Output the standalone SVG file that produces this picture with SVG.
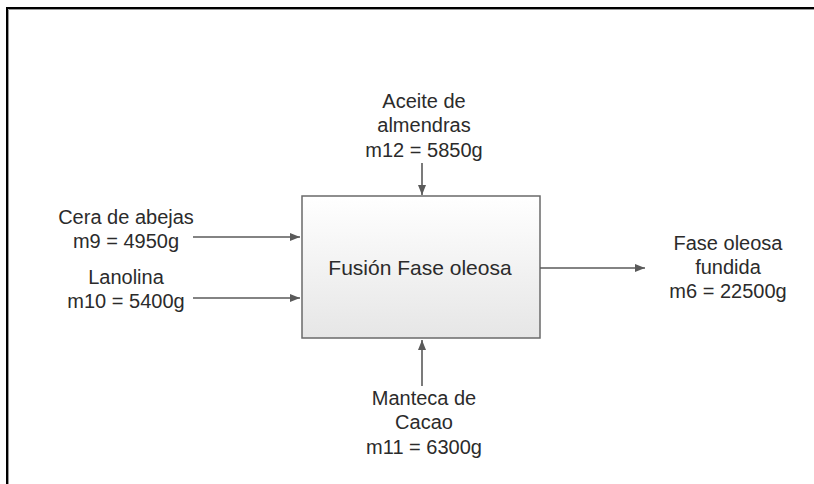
<svg xmlns="http://www.w3.org/2000/svg" width="814" height="484" viewBox="0 0 814 484">
<style>
text{font-family:"Liberation Sans",Arial,sans-serif;font-size:20px;fill:#2b2b2b;text-anchor:middle}
.c{stroke:#5a5a5a;stroke-width:1.6;fill:none}
</style>
<defs>
<linearGradient id="g" x1="0" y1="0" x2="0" y2="1">
<stop offset="0" stop-color="#ffffff"/>
<stop offset="1" stop-color="#e6e6e6"/>
</linearGradient>
<marker id="a" viewBox="0 0 10 10" refX="10" refY="5" markerWidth="10" markerHeight="10" markerUnits="userSpaceOnUse" orient="auto">
<path d="M0,1 L10,5 L0,9 Z" fill="#5a5a5a"/>
</marker>
</defs>
<rect width="814" height="484" fill="#ffffff"/>
<path d="M7,484 V8 H814" fill="none" stroke="#000" stroke-width="2"/>
<path d="M8.5,484 V9.5 H814" fill="none" stroke="#999" stroke-width="1"/>
<g id="proceso">
<rect x="302" y="196" width="238" height="142" fill="url(#g)" stroke="#6a6a6a" stroke-width="1.5"/>
<text x="420" y="275" style="font-size:21px">Fusión Fase oleosa</text>
</g>
<g id="cera">
<text x="126" y="224">Cera de abejas</text>
<text x="126" y="248">m9 = 4950g</text>
</g>
<g id="lanolina">
<text x="126" y="284">Lanolina</text>
<text x="126" y="308">m10 = 5400g</text>
</g>
<g id="aceite">
<text x="424" y="108">Aceite de</text>
<text x="424" y="132">almendras</text>
<text x="424" y="157">m12 = 5850g</text>
</g>
<g id="manteca">
<text x="424" y="405">Manteca de</text>
<text x="424" y="429">Cacao</text>
<text x="424" y="454">m11 = 6300g</text>
</g>
<g id="salida">
<text x="728" y="250">Fase oleosa</text>
<text x="728" y="274">fundida</text>
<text x="728" y="298">m6 = 22500g</text>
</g>
<g id="conectores">
<path class="c" d="M193,237 H300" marker-end="url(#a)"/>
<path class="c" d="M193,298 H300" marker-end="url(#a)"/>
<path class="c" d="M422,163 V195" marker-end="url(#a)"/>
<path class="c" d="M422,386 V340" marker-end="url(#a)"/>
<path class="c" d="M540,268 H645" marker-end="url(#a)"/>
</g>
</svg>
